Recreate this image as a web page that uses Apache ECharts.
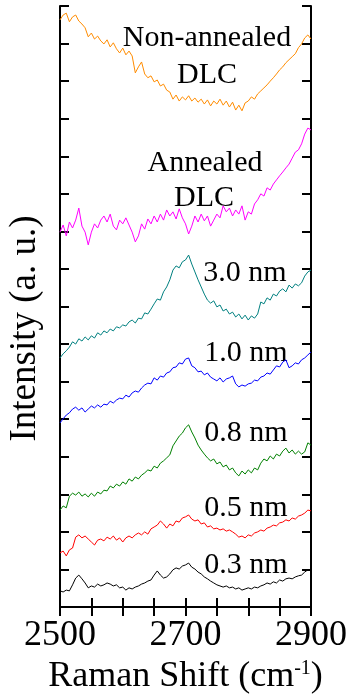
<!DOCTYPE html>
<html>
<head>
<meta charset="utf-8">
<script src="https://cdn.jsdelivr.net/npm/echarts@6/dist/echarts.min.js"></script>
<style>
  html, body { margin: 0; padding: 0; background: #fff; }
  #main { width: 351px; height: 695px; }
</style>
</head>
<body>
<div id="main"></div>
<script>
// Raman shift grid (cm-1)
var shift = [2500, 2505, 2510, 2515, 2520, 2525, 2530, 2535, 2540, 2545,
  2550, 2555, 2560, 2565, 2570, 2575, 2580, 2585, 2590, 2595,
  2600, 2605, 2610, 2615, 2620, 2625, 2630, 2635, 2640, 2645,
  2650, 2655, 2660, 2665, 2670, 2675, 2680, 2685, 2690, 2695,
  2700, 2705, 2710, 2715, 2720, 2725, 2730, 2735, 2740, 2745,
  2750, 2755, 2760, 2765, 2770, 2775, 2780, 2785, 2790, 2795,
  2800, 2805, 2810, 2815, 2820, 2825, 2830, 2835, 2840, 2845,
  2850, 2855, 2860, 2865, 2870, 2875, 2880, 2885, 2890, 2895, 2900];

// intensities (a. u., stacked with offsets as in the figure)
var nonAnnealed = [15.63, 15.76, 15.81, 15.58, 15.71, 15.76, 15.60, 15.52, 15.42, 15.18,
  15.28, 15.12, 15.20, 15.07, 14.99, 15.10, 14.91, 15.02, 14.86, 14.75,
  14.88, 14.70, 14.80, 14.67, 14.22, 14.38, 14.51, 14.19, 14.09, 14.14,
  13.98, 14.03, 13.87, 13.92, 13.76, 13.71, 13.52, 13.63, 13.47, 13.58,
  13.50, 13.61, 13.47, 13.55, 13.44, 13.52, 13.39, 13.50, 13.34, 13.47,
  13.39, 13.52, 13.36, 13.47, 13.31, 13.44, 13.23, 13.36, 13.21, 13.42,
  13.47, 13.58, 13.52, 13.66, 13.74, 13.82, 13.90, 14.00, 14.09, 14.19,
  14.30, 14.38, 14.49, 14.57, 14.65, 14.73, 14.89, 14.99, 15.15, 15.23, 15.12];

var annealed = [9.98, 10.17, 9.88, 10.25, 10.09, 10.30, 10.62, 10.14, 9.98, 9.64,
  9.98, 10.20, 10.09, 10.30, 10.41, 10.25, 10.46, 10.14, 10.04, 10.30,
  10.20, 10.36, 10.17, 9.98, 9.72, 9.88, 10.20, 10.06, 10.33, 10.20,
  10.41, 10.25, 10.46, 10.30, 10.57, 10.41, 10.52, 10.33, 10.60, 10.36,
  10.20, 9.93, 10.14, 10.41, 10.25, 10.46, 10.28, 10.41, 10.14, 10.30,
  10.46, 10.36, 10.68, 10.52, 10.62, 10.41, 10.57, 10.46, 10.68, 10.30,
  10.52, 10.46, 10.73, 10.84, 11.00, 10.94, 11.16, 11.10, 11.26, 11.37,
  11.48, 11.58, 11.69, 11.79, 11.95, 12.11, 12.17, 12.33, 12.59, 12.75, 12.70];

var nm30 = [6.63, 6.74, 6.82, 6.92, 7.06, 7.00, 7.14, 7.08, 7.19, 7.11,
  7.22, 7.16, 7.30, 7.24, 7.35, 7.30, 7.40, 7.35, 7.46, 7.43,
  7.51, 7.48, 7.59, 7.64, 7.56, 7.69, 7.67, 7.83, 7.80, 7.93,
  8.07, 8.20, 8.17, 8.39, 8.52, 8.71, 8.97, 9.08, 9.03, 9.19,
  9.24, 9.37, 9.13, 8.92, 8.71, 8.52, 8.33, 8.17, 8.09, 8.15,
  7.99, 8.04, 7.88, 7.93, 7.80, 7.85, 7.72, 7.80, 7.67, 7.77,
  7.64, 7.75, 7.69, 7.80, 8.12, 8.07, 8.23, 8.17, 8.33, 8.28,
  8.41, 8.47, 8.39, 8.57, 8.49, 8.60, 8.55, 8.63, 8.81, 8.92, 8.97];

var nm10 = [4.90, 5.01, 5.11, 5.17, 5.27, 5.32, 5.24, 5.30, 5.19, 5.27,
  5.35, 5.30, 5.38, 5.32, 5.40, 5.38, 5.48, 5.43, 5.51, 5.56,
  5.54, 5.64, 5.59, 5.70, 5.75, 5.72, 5.83, 5.91, 5.96, 5.94,
  6.10, 6.04, 6.15, 6.12, 6.23, 6.26, 6.37, 6.39, 6.50, 6.47,
  6.60, 6.63, 6.42, 6.37, 6.26, 6.28, 6.18, 6.23, 6.12, 6.07,
  6.02, 6.10, 5.99, 6.07, 6.10, 6.15, 5.94, 5.86, 5.91, 5.88,
  5.94, 5.96, 6.04, 6.02, 6.12, 6.15, 6.23, 6.20, 6.31, 6.42,
  6.39, 6.52, 6.58, 6.37, 6.42, 6.50, 6.47, 6.58, 6.63, 6.71, 6.79];

var nm08 = [2.58, 2.69, 2.64, 2.95, 3.03, 2.98, 3.06, 2.95, 3.01, 2.93,
  3.03, 2.95, 3.06, 3.01, 3.11, 3.09, 3.22, 3.17, 3.27, 3.22,
  3.33, 3.27, 3.41, 3.35, 3.46, 3.41, 3.51, 3.57, 3.65, 3.62,
  3.75, 3.70, 3.83, 3.89, 3.97, 4.05, 4.29, 4.42, 4.55, 4.63,
  4.77, 4.85, 4.66, 4.50, 4.31, 4.18, 4.07, 3.97, 3.89, 3.94,
  3.81, 3.86, 3.73, 3.78, 3.65, 3.70, 3.57, 3.49, 3.62, 3.54,
  3.65, 3.57, 3.70, 3.65, 3.83, 3.94, 3.89, 4.02, 3.94, 4.07,
  4.02, 4.15, 4.23, 4.10, 4.18, 4.07, 4.15, 4.07, 4.13, 4.37, 4.31];

var nm05 = [1.44, 1.49, 1.36, 1.52, 1.57, 1.86, 1.92, 1.84, 1.89, 1.81,
  1.73, 1.65, 1.78, 1.81, 1.76, 1.86, 1.81, 1.89, 1.78, 1.84,
  1.73, 1.84, 1.89, 1.84, 1.92, 1.97, 1.92, 2.00, 1.94, 2.08,
  2.13, 2.18, 2.29, 2.21, 2.10, 2.21, 2.16, 2.29, 2.26, 2.37,
  2.40, 2.45, 2.34, 2.29, 2.32, 2.21, 2.24, 2.13, 2.16, 2.08,
  2.10, 2.05, 2.08, 2.02, 2.05, 2.00, 1.94, 1.86, 1.89, 1.84,
  1.92, 1.89, 1.97, 2.00, 2.05, 2.02, 2.10, 2.13, 2.18, 2.16,
  2.24, 2.26, 2.32, 2.29, 2.37, 2.34, 2.42, 2.45, 2.50, 2.58, 2.56];

var nm03 = [0.43, 0.40, 0.45, 0.43, 0.59, 0.77, 0.85, 0.75, 0.64, 0.51,
  0.56, 0.53, 0.61, 0.56, 0.59, 0.64, 0.61, 0.56, 0.59, 0.51,
  0.53, 0.45, 0.51, 0.48, 0.53, 0.56, 0.61, 0.64, 0.69, 0.72,
  0.85, 0.96, 0.85, 0.77, 0.80, 0.88, 0.99, 1.04, 1.01, 1.09,
  1.12, 1.17, 1.06, 1.01, 0.93, 0.88, 0.80, 0.75, 0.69, 0.64,
  0.59, 0.56, 0.53, 0.56, 0.51, 0.53, 0.48, 0.51, 0.45, 0.48,
  0.51, 0.48, 0.53, 0.51, 0.56, 0.59, 0.64, 0.61, 0.67, 0.64,
  0.72, 0.69, 0.75, 0.77, 0.75, 0.80, 0.83, 0.85, 0.93, 0.99, 0.96];

var xLabels = [2500, 2700, 2900];

var serif = 'Liberation Serif';

function pairs(arr) {
  return shift.map(function (x, i) { return [x, arr[i]]; });
}

function line(name, arr, color) {
  return {
    name: name,
    type: 'line',
    data: pairs(arr),
    symbol: 'none',
    animation: false,
    lineStyle: { color: color, width: 1 }
  };
}

function note(text, x, y) {
  return {
    type: 'text', x: x, y: y,
    style: { text: text, fontFamily: serif, fontSize: 30, fill: '#000', align: 'center', verticalAlign: 'middle' }
  };
}

var frameLine = { show: true, lineStyle: { color: '#000', width: 2 } };
var frameTick = { show: true, inside: true, length: 9, lineStyle: { color: '#000', width: 2 } };

var myChart = echarts.init(document.getElementById('main'));
myChart.setOption({
  backgroundColor: '#fff',
  grid: { left: 60, right: 40, top: 6, bottom: 88, outerBoundsMode: 'none', containLabel: false },
  xAxis: [{
    type: 'value',
    min: 2500, max: 2900, interval: 50,
    position: 'bottom',
    axisLine: frameLine,
    axisTick: frameTick,
    splitLine: { show: false },
    axisLabel: {
      color: '#000', fontFamily: serif, fontSize: 36, margin: 11,
      formatter: function (v) { return xLabels.indexOf(v) >= 0 ? String(v) : ''; }
    },
    name: 'Raman Shift (cm{sup|-1})',
    nameLocation: 'middle',
    nameGap: 52,
    nameTextStyle: {
      color: '#000', fontFamily: serif, fontSize: 36,
      rich: { sup: { fontFamily: serif, fontSize: 20, verticalAlign: 'top', color: '#000' } }
    }
  }, {
    type: 'value',
    min: 2500, max: 2900, interval: 50,
    position: 'top',
    axisLine: frameLine,
    axisTick: frameTick,
    splitLine: { show: false },
    axisLabel: { show: false }
  }],
  yAxis: [{
    type: 'value',
    min: 0, max: 16, interval: 1,
    position: 'left',
    axisLine: frameLine,
    axisTick: frameTick,
    splitLine: { show: false },
    axisLabel: { show: false },
    name: 'Intensity (a. u.)',
    nameLocation: 'middle',
    nameGap: 16,
    nameTextStyle: { color: '#000', fontFamily: serif, fontSize: 37, padding: [0, 44, 0, 0] }
  }, {
    type: 'value',
    min: 0, max: 16, interval: 1,
    position: 'right',
    axisLine: frameLine,
    axisTick: frameTick,
    splitLine: { show: false },
    axisLabel: { show: false }
  }],
  series: [
    line('Non-annealed DLC', nonAnnealed, '#ff8c00'),
    line('Annealed DLC', annealed, '#ff00ff'),
    line('3.0 nm', nm30, '#008080'),
    line('1.0 nm', nm10, '#0000ff'),
    line('0.8 nm', nm08, '#008000'),
    line('0.5 nm', nm05, '#ff0000'),
    line('0.3 nm', nm03, '#000000')
  ],
  graphic: [
    note('Non-annealed', 207, 38),
    note('DLC', 207, 75),
    note('Annealed', 205, 163),
    note('DLC', 204, 198),
    note('3.0 nm', 245, 273),
    note('1.0 nm', 246, 353),
    note('0.8 nm', 246, 433),
    note('0.5 nm', 246, 508),
    note('0.3 nm', 246, 565)
  ]
});
</script>
</body>
</html>
